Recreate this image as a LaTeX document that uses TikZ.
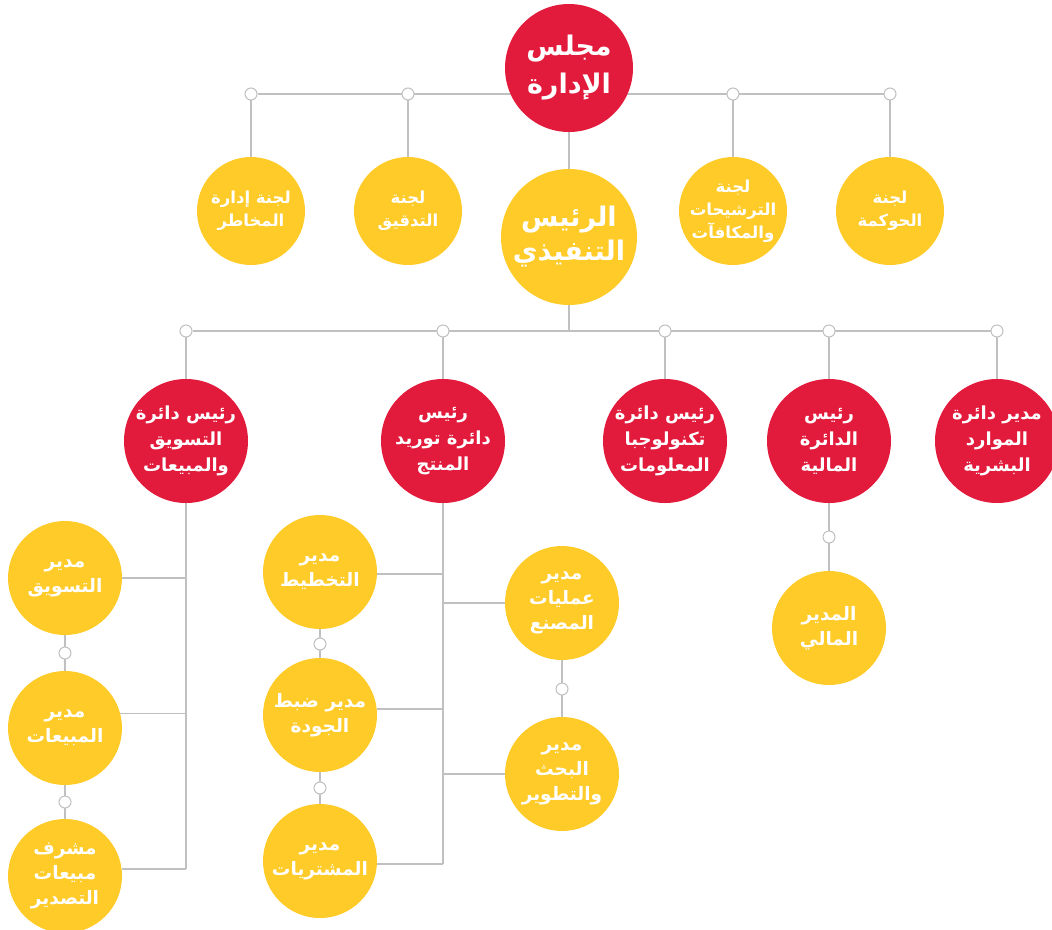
\documentclass[tikz,border=0pt]{standalone}
\usepackage{fontspec}
\newfontfamily\arabicfont[Script=Arabic]{DejaVu Sans}
\TeXXeTstate=1
\usetikzlibrary{backgrounds}
\definecolor{orgred}{RGB}{226,27,60}
\definecolor{orgyellow}{RGB}{254,203,41}
\definecolor{linegray}{RGB}{192,192,192}
\newcommand{\AR}[1]{\beginR #1\endR}
\tikzset{
  base/.style={circle, inner sep=0pt, text=white, align=center, font=\arabicfont\bfseries},
  redbig/.style={base, fill=orgred, minimum size=128pt, font=\arabicfont\bfseries\fontsize{27}{38}\selectfont},
  ceobox/.style={base, fill=orgyellow, minimum size=136pt, font=\arabicfont\bfseries\fontsize{27}{34}\selectfont},
  committee/.style={base, fill=orgyellow, minimum size=108pt, font=\arabicfont\bfseries\fontsize{16.5}{23}\selectfont},
  dept/.style={base, fill=orgred, minimum size=124pt, font=\arabicfont\bfseries\fontsize{18}{26}\selectfont},
  mgr/.style={base, fill=orgyellow, minimum size=114pt, font=\arabicfont\bfseries\fontsize{18.5}{25}\selectfont},
  joint/.style={circle, draw=linegray, fill=white, line width=1pt, minimum size=12pt, inner sep=0pt},
  conn/.style={draw=linegray, line width=1.3pt}
}
\begin{document}
\begin{tikzpicture}[x=1pt,y=-1pt]
\useasboundingbox (0,0) rectangle (1052,929);
% top level
\node[redbig] (board) at (569,68) {\AR{مجلس}\\\AR{الإدارة}};
\node[joint] (j1) at (251,94) {};
\node[joint] (j2) at (408,94) {};
\node[joint] (j3) at (733,94) {};
\node[joint] (j4) at (890,94) {};
\node[committee] (c1) at (251,211) {\AR{لجنة إدارة}\\\AR{المخاطر}};
\node[committee] (c2) at (408,211) {\AR{لجنة}\\\AR{التدقيق}};
\node[committee] (c3) at (733,211) {\AR{لجنة}\\\AR{الترشيحات}\\\AR{والمكافآت}};
\node[committee] (c4) at (890,211) {\AR{لجنة}\\\AR{الحوكمة}};
\node[ceobox] (ceo) at (569,237) {\AR{الرئيس}\\\AR{التنفيذي}};
% second level
\node[joint] (k1) at (186,331) {};
\node[joint] (k2) at (443,331) {};
\node[joint] (k3) at (665,331) {};
\node[joint] (k4) at (829,331) {};
\node[joint] (k5) at (997,331) {};
\node[dept] (mkt) at (186,441) {\AR{رئيس دائرة}\\\AR{التسويق}\\\AR{والمبيعات}};
\node[dept] (sup) at (443,441) {\AR{رئيس}\\\AR{دائرة توريد}\\\AR{المنتج}};
\node[dept] (it) at (665,441) {\AR{رئيس دائرة}\\\AR{تكنولوجبا}\\\AR{المعلومات}};
\node[dept] (fin) at (829,441) {\AR{رئيس}\\\AR{الدائرة}\\\AR{المالية}};
\node[dept] (hr) at (997,441) {\AR{مدير دائرة}\\\AR{الموارد}\\\AR{البشرية}};
% marketing branch
\node[mgr] (mm1) at (65,578) {\AR{مدير}\\\AR{التسويق}};
\node[joint] (mj1) at (65,653) {};
\node[mgr] (mm2) at (65,728) {\AR{مدير}\\\AR{المبيعات}};
\node[joint] (mj2) at (65,802) {};
\node[mgr] (mm3) at (65,876) {\AR{مشرف}\\\AR{مبيعات}\\\AR{التصدير}};
% supply branch
\node[mgr] (p1) at (320,572) {\AR{مدير}\\\AR{التخطيط}};
\node[joint] (pj1) at (320,644) {};
\node[mgr] (p2) at (320,715) {\AR{مدير ضبط}\\\AR{الجودة}};
\node[joint] (pj2) at (320,788) {};
\node[mgr] (p3) at (320,861) {\AR{مدير}\\\AR{المشتريات}};
\node[mgr] (f1) at (562,603) {\AR{مدير}\\\AR{عمليات}\\\AR{المصنع}};
\node[joint] (fj1) at (562,689) {};
\node[mgr] (f2) at (562,774) {\AR{مدير}\\\AR{البحث}\\\AR{والتطوير}};
% finance branch
\node[joint] (finj) at (829,537) {};
\node[mgr] (fm) at (829,628) {\AR{المدير}\\\AR{المالي}};
% connectors
\begin{scope}[on background layer]
\draw[conn] (j1) -- (j4);
\foreach \a/\b in {j1/c1,j2/c2,j3/c3,j4/c4}{\draw[conn] (\a.center) -- (\b.north);}
\draw[conn] (board.south) -- (ceo.north);
\draw[conn] (ceo.south) -- (ceo.south |- k1.center);
\draw[conn] (k1) -- (k5);
\foreach \a/\b in {k1/mkt,k2/sup,k3/it,k4/fin,k5/hr}{\draw[conn] (\a.center) -- (\b.north);}
% marketing
\draw[conn] (mkt.south) -- (mkt.south |- mm3.7);
\draw[conn] (mm1.east) -- (mm1.east -| mkt.south);
\draw[conn] (mm2.15) -- (mm2.15 -| mkt.south);
\draw[conn] (mm3.7) -- (mm3.7 -| mkt.south);
\draw[conn] (mm1.south) -- (mj1.center) -- (mm2.north);
\draw[conn] (mm2.south) -- (mj2.center) -- (mm3.north);
% supply
\draw[conn] (sup.south) -- (sup.south |- p3.-3);
\draw[conn] (p1.-2) -- (p1.-2 -| sup.south);
\draw[conn] (p2.6) -- (p2.6 -| sup.south);
\draw[conn] (p3.-3) -- (p3.-3 -| sup.south);
\draw[conn] (f1.west) -- (f1.west -| sup.south);
\draw[conn] (f2.west) -- (f2.west -| sup.south);
\draw[conn] (p1.south) -- (pj1.center) -- (p2.north);
\draw[conn] (p2.south) -- (pj2.center) -- (p3.north);
\draw[conn] (f1.south) -- (fj1.center) -- (f2.north);
% finance
\draw[conn] (fin.south) -- (finj.center) -- (fm.north);
\end{scope}
\end{tikzpicture}
\end{document}
